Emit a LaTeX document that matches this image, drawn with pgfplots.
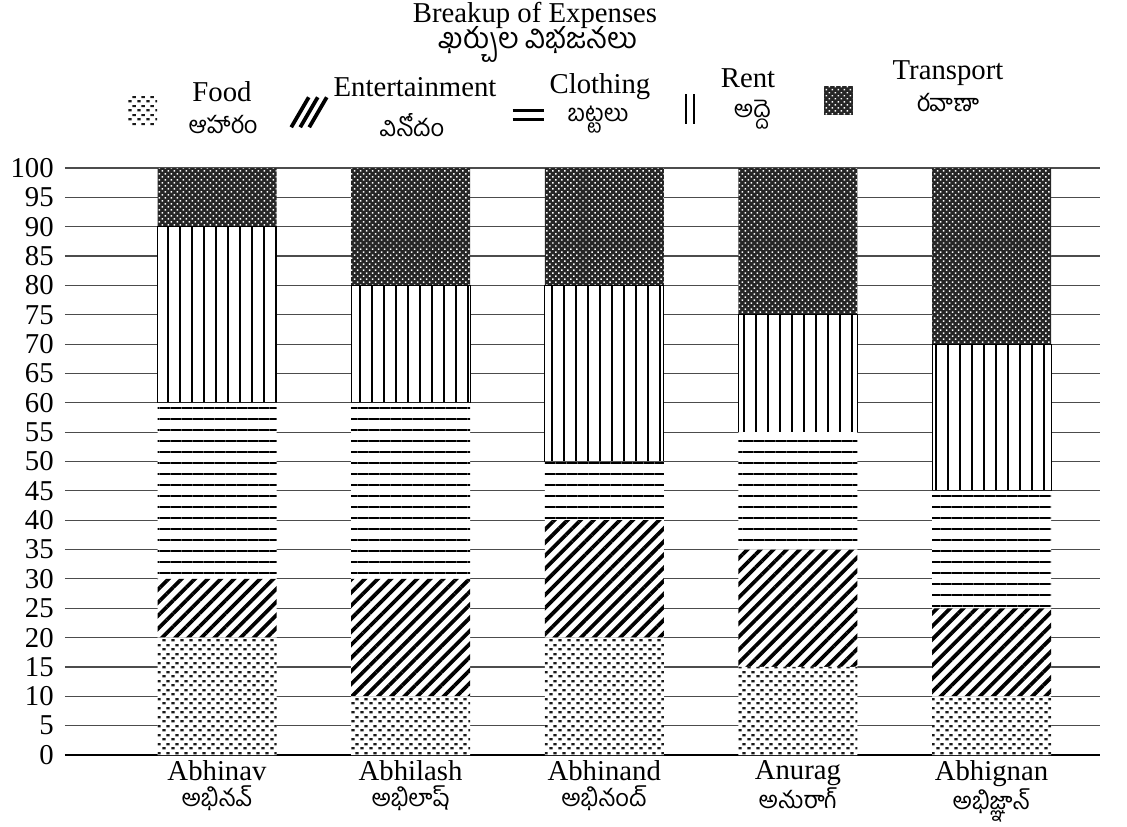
\documentclass[border=0pt]{standalone}
\usepackage{pgfplots}
\pgfplotsset{compat=1.18}
\usepackage{fontspec}
\setmainfont{Liberation Serif}
\newfontfamily\te[Script=Telugu]{Hind Guntur}
\usetikzlibrary{patterns,patterns.meta}

\pgfdeclarepatternformonly{foodpat}{\pgfqpoint{0pt}{0pt}}{\pgfqpoint{3.4pt}{3.4pt}}{\pgfqpoint{3.4pt}{3.4pt}}{%
  \pgfpathrectangle{\pgfqpoint{0.15pt}{0.3pt}}{\pgfqpoint{1.4pt}{0.9pt}}%
  \pgfpathrectangle{\pgfqpoint{1.85pt}{2.0pt}}{\pgfqpoint{1.4pt}{0.9pt}}%
  \pgfusepath{fill}}

\tikzset{
  foodst/.style={fill=white, postaction={pattern=foodpat, pattern color=black!90}},
  entst/.style={fill=white, postaction={pattern={Lines[angle=45,distance=3.7pt,line width=1.5pt]}, pattern color=black}},
  clothst/.style={fill=white, postaction={pattern={Lines[angle=0,distance=4.4pt,line width=0.85pt]}, pattern color=black}},
  rentst/.style={fill=white, postaction={pattern={Lines[angle=90,distance=4.8pt,line width=0.55pt]}, pattern color=black}},
  transst/.style={fill=black!85, postaction={pattern={Dots[angle=45,distance=1.7pt,radius=0.42pt]}, pattern color=white}},
}

\pgfplotstableread{
x food ent cloth rent trans
0 20 10 30 30 10
1 10 20 30 20 20
2 20 20 10 30 20
3 15 20 20 20 25
4 10 15 20 25 30
}\datatable

\begin{document}
\begin{tikzpicture}
\path[use as bounding box] (0,0) rectangle (450.8pt,330.4pt);
\begin{axis}[
  at={(26pt,28.4pt)}, anchor=south west,
  scale only axis, width=414pt, height=234.8pt,
  xmin=-0.785, xmax=4.56, ymin=0, ymax=100,
  clip=false,
  ybar stacked, bar width=47.6pt,
  axis line style={draw=none},
  tick style={draw=none},
  ytick={0,5,...,100},
  ymajorgrids, grid style={black!70, line width=0.45pt},
  extra y ticks={0}, extra y tick labels={},
  extra y tick style={grid style={black, line width=0.9pt}},
  xtick={0,1,2,3,4},
  xticklabels={{Abhinav\\{\te\fontsize{9.5}{10}\selectfont అభినవ్}},
               {Abhilash\\{\te\fontsize{9.5}{10}\selectfont అభిలాష్}},
               {Abhinand\\{\te\fontsize{9.5}{10}\selectfont అభినంద్}},
               {Anurag\\{\te\fontsize{9.5}{10}\selectfont అనురాగ్}},
               {Abhignan\\{\te\fontsize{9.5}{10}\selectfont అభిజ్ఞాన్}}},
  xticklabel style={align=center, font=\fontsize{11.5}{10.5}\selectfont, yshift=1.5pt},
  yticklabel style={font=\fontsize{11.5}{12}\selectfont, xshift=-1pt},
  /pgf/number format/assume math mode=true,
]
\addplot[foodst, draw=none] table[x=x, y=food] {\datatable};
\addplot[entst, draw=none] table[x=x, y=ent] {\datatable};
\addplot[clothst, draw=none] table[x=x, y=cloth] {\datatable};
\addplot[rentst, draw=black, line width=0.4pt] table[x=x, y=rent] {\datatable};
\addplot[transst, draw=none] table[x=x, y=trans] {\datatable};
\end{axis}

% title
\node[font=\fontsize{11.5}{12}\selectfont, inner sep=1pt] at (214pt,324.2pt) {Breakup of Expenses};
\node[font=\te\fontsize{11.5}{12}\selectfont, inner sep=0pt] at (215.2pt,312.6pt) {ఖర్చుల విభజనలు};

% legend
\begin{scope}[font=\fontsize{11.5}{12}\selectfont]
% Food
\fill[foodst] (50.8pt,280.4pt) rectangle (62.8pt,292.4pt);
\node at (88.8pt,293.6pt) {Food};
\node[font=\te\fontsize{9.5}{10}\selectfont] at (89.2pt,280.4pt) {ఆహారం};
% Entertainment
\foreach \d in {0,3.6,7.2} \draw[line width=1.5pt] (116.5pt+\d pt,279.5pt) -- (123.5pt+\d pt,291.5pt);
\node at (166pt,295.6pt) {Entertainment};
\node[font=\te\fontsize{9.5}{10}\selectfont] at (164.8pt,280.4pt) {వినోదం};
% Clothing
\draw[line width=1.1pt] (205pt,286.2pt) -- (217.5pt,286.2pt);
\draw[line width=1.1pt] (205pt,282.6pt) -- (217.5pt,282.6pt);
\node[inner sep=1pt] at (240pt,295.6pt) {Clothing};
\node[font=\te\fontsize{9.5}{10}\selectfont] at (239.2pt,282.6pt) {బట్టలు};
% Rent
\draw[line width=1pt] (274.4pt,281pt) -- (274.4pt,293pt);
\draw[line width=1pt] (277.6pt,281pt) -- (277.6pt,293pt);
\node at (299.2pt,299.2pt) {Rent};
\node[font=\te\fontsize{9.5}{10}\selectfont] at (300.8pt,284.4pt) {అద్దె};
% Transport
\fill[transst] (329.4pt,284.6pt) rectangle (341pt,296.2pt);
\node at (379.2pt,301.2pt) {Transport};
\node[font=\te\fontsize{9.5}{10}\selectfont] at (379.2pt,289.2pt) {రవాణా};
\end{scope}
\end{tikzpicture}
\end{document}
